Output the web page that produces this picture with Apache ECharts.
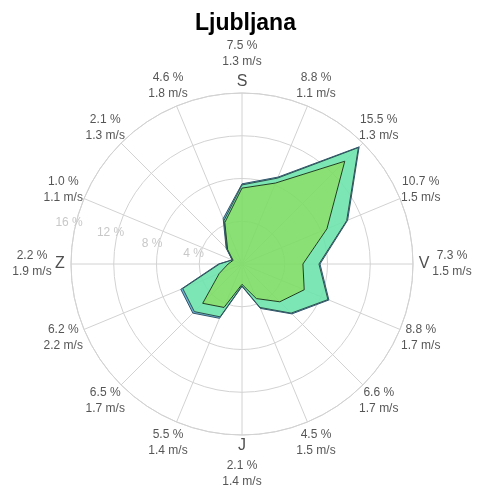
<!DOCTYPE html>
<html>
<head>
<meta charset="utf-8">
<title>Ljubljana</title>
<script src="https://cdn.jsdelivr.net/npm/echarts/dist/echarts.min.js"></script>
<style>
  html, body { margin: 0; padding: 0; background: #fff; }
  #chart { width: 479px; height: 492px; }
</style>
</head>
<body>
<div id="chart"></div>
<script>
// smeri vetra, od severa v smeri urinega kazalca
var directions = ['S', 'SSV', 'SV', 'VSV', 'V', 'VJV', 'JV', 'JJV', 'J', 'JJZ', 'JZ', 'ZJZ', 'Z', 'ZSZ', 'SZ', 'SSZ'];
// pogostost (%) in povprecna hitrost (m/s) po smereh
var freq  = [7.5, 8.8, 15.5, 10.7, 7.3, 8.8, 6.6, 4.5, 2.1, 5.5, 6.5, 6.2, 2.2, 1.0, 2.1, 4.6];
var speed = [1.3, 1.1, 1.3, 1.5, 1.5, 1.7, 1.7, 1.5, 1.4, 1.4, 1.7, 2.2, 1.9, 1.1, 1.3, 1.8];
// razredi hitrosti (%), zlozeni eden na drugega
var cls1 = [7.1, 8.2, 13.6, 8.6, 5.7, 6.3, 5.0, 3.5, 1.9, 4.4, 5.2, 2.3, 1.3, 0.9, 1.9, 4.2];
var cls2 = [0.3, 0.5, 1.8, 2.0, 1.5, 2.4, 1.5, 0.9, 0.15, 0.95, 1.1, 3.7, 0.8, 0.1, 0.1, 0.2];
var cls3 = [0.1, 0.1, 0.1, 0.1, 0.1, 0.1, 0.1, 0.1, 0.05, 0.15, 0.2, 0.2, 0.1, 0.0, 0.1, 0.2];
var ringTicks = [4, 8, 12, 16];

var step = 360 / directions.length;
var rMax = ringTicks[ringTicks.length - 1];

// zaprt poligon: prva tocka se ponovi pri 360 stopinjah
function ring(vals) {
  var pts = vals.map(function (v, i) { return [v, i * step]; });
  pts.push([vals[0], 360]);
  return pts;
}

function layer(name, vals, fill, line) {
  return {
    name: name,
    type: 'line',
    coordinateSystem: 'polar',
    polarIndex: 0,
    stack: 'roza',
    symbol: 'none',
    smooth: false,
    silent: true,
    data: ring(vals),
    lineStyle: { color: line, width: 1 },
    areaStyle: { color: fill, opacity: 0.9 }
  };
}

var chart = echarts.init(document.getElementById('chart'));

var option = {
  animation: false,
  textStyle: { fontFamily: 'Liberation Sans, Arial, sans-serif' },
  title: {
    text: 'Ljubljana',
    left: 190,
    top: 7,
    textStyle: { fontSize: 23, fontWeight: 'bold', color: '#000' }
  },
  polar: [
    { center: [242, 264], radius: 171 },
    { center: [242, 264], radius: 171 }
  ],
  angleAxis: [
    {
      polarIndex: 0,
      type: 'value',
      min: 0,
      max: 360,
      interval: step,
      startAngle: 90,
      clockwise: true,
      axisLine: { show: true, lineStyle: { color: '#d2d2d2', width: 1 } },
      axisTick: { show: false },
      axisLabel: { show: false },
      splitLine: { show: true, lineStyle: { color: '#d2d2d2', width: 1 } }
    },
    {
      polarIndex: 1,
      type: 'value',
      min: 0,
      max: 360,
      startAngle: 166,
      axisLine: { show: false },
      axisTick: { show: false },
      axisLabel: { show: false },
      splitLine: { show: false }
    }
  ],
  radiusAxis: [
    {
      polarIndex: 0,
      type: 'value',
      min: 0,
      max: rMax,
      interval: 4,
      axisLine: { show: false },
      axisTick: { show: false },
      axisLabel: { show: false },
      splitLine: { show: true, lineStyle: { color: '#d2d2d2', width: 1 } }
    },
    {
      polarIndex: 1,
      type: 'value',
      min: 0,
      max: rMax,
      interval: 4,
      axisLine: { show: false },
      axisTick: { show: false },
      splitLine: { show: false },
      axisLabel: {
        show: true,
        showMinLabel: false,
        margin: 0,
        align: 'center',
        verticalAlign: 'middle',
        padding: [0, 14, 0, 0],
        color: '#c8c8c8',
        fontSize: 12,
        formatter: function (v) { return ringTicks.indexOf(v) >= 0 ? v + ' %' : ''; }
      }
    }
  ],
  series: [
    layer('razred 1', cls1, '#7edd66', '#1f3d1f'),
    layer('razred 2', cls2, '#6fe3ad', '#2a5247'),
    layer('razred 3', cls3, '#5faad7', '#34566a'),
    {
      // pogostost in hitrost ob vsaki smeri
      type: 'scatter',
      coordinateSystem: 'polar',
      polarIndex: 0,
      symbolSize: 1,
      silent: true,
      clip: false,
      itemStyle: { color: 'rgba(0,0,0,0)' },
      data: directions.map(function (d, i) { return [i % 4 === 0 ? 19.65 : 18.1, i * step]; }),
      label: {
        show: true,
        position: 'inside',
        color: '#2a2a2a',
        fontSize: 12,
        lineHeight: 16,
        formatter: function (p) {
          var i = p.dataIndex;
          return freq[i].toFixed(1) + ' %\n' + speed[i].toFixed(1) + ' m/s';
        }
      }
    },
    {
      // glavne smeri neba
      type: 'scatter',
      coordinateSystem: 'polar',
      polarIndex: 0,
      symbolSize: 1,
      silent: true,
      clip: false,
      itemStyle: { color: 'rgba(0,0,0,0)' },
      data: directions.map(function (d, i) { return [17.03, i * step]; }).filter(function (d, i) { return i % 4 === 0; }),
      label: {
        show: true,
        position: 'inside',
        color: '#222',
        fontSize: 16,
        formatter: function (p) { return directions[p.dataIndex * 4]; }
      }
    }
  ]
};

chart.setOption(option);
</script>
</body>
</html>
